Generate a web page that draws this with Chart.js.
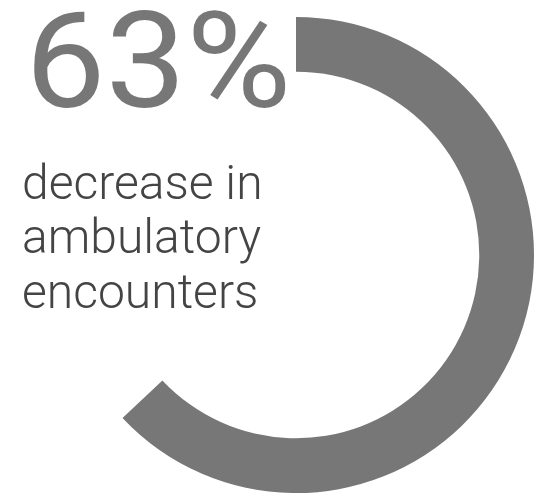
<!DOCTYPE html>
<html>
<head>
<meta charset="utf-8">
<script src="https://cdn.jsdelivr.net/npm/chart.js@4"></script>
<style>
html,body{margin:0;padding:0;background:#fff;}
#wrap{position:relative;width:538px;height:494px;}
</style>
</head>
<body>
<div id="wrap"><canvas id="c" width="538" height="494"></canvas></div>
<script>
const categories = ["decrease", "remainder"];
const values = [63, 37];
const bigLabel = "63%";
const captionLines = ["decrease in", "ambulatory", "encounters"];

const textPlugin = {
  id: 'textPlugin',
  afterDraw(chart) {
    const ctx = chart.ctx;
    ctx.save();
    ctx.textBaseline = 'alphabetic';
    ctx.textAlign = 'left';
    ctx.fillStyle = '#777777';
    ctx.font = '400 134px Roboto';
    ctx.save();
    ctx.translate(25, 107);
    ctx.scale(1.07, 1);
    ctx.fillText(bigLabel, 0, 0);
    ctx.restore();
    ctx.fillStyle = '#444444';
    ctx.font = '300 48px Roboto';
    const baselines = [199, 253, 308];
    captionLines.forEach((t, i) => ctx.fillText(t, 22, baselines[i]));
    ctx.restore();
  }
};

new Chart(document.getElementById('c'), {
  type: 'doughnut',
  data: {
    labels: categories,
    datasets: [{
      data: values,
      backgroundColor: ['#777777', 'rgba(0,0,0,0)'],
      borderWidth: 0,
      hoverOffset: 0
    }]
  },
  options: {
    responsive: false,
    animation: false,
    cutout: '77%',
    layout: { padding: { top: 17, bottom: 1, left: 58, right: 4 } },
    plugins: { legend: { display: false }, tooltip: { enabled: false } },
    events: []
  },
  plugins: [textPlugin]
});
</script>
</body>
</html>
